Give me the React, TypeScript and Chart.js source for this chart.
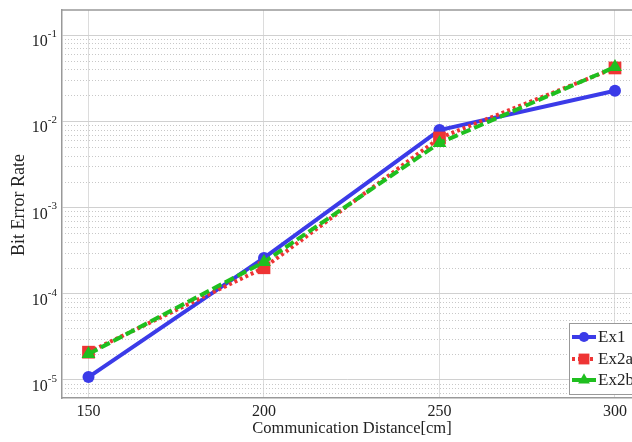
import React, { useEffect, useRef } from "react";
import { Chart, registerables } from "chart.js";
Chart.register(...registerables);

const distances = [150, 200, 250, 300];
const ex1 = [1.08e-5, 2.6e-4, 7.9e-3, 2.26e-2];
const ex2a = [2.1e-5, 2.0e-4, 6.4e-3, 4.15e-2];
const ex2b = [2.0e-5, 2.33e-4, 5.6e-3, 4.25e-2];
const seriesNames = ["Ex1", "Ex2a", "Ex2b"];
const xTicks = [150, 200, 250, 300];
const yDecades = [-5, -4, -3, -2, -1];

const FONT = "'Liberation Serif', 'Times New Roman', serif";
const BLUE = "#3b3be8";
const RED = "#ee3434";
const GREEN = "#1fbf1f";

const styles = [
  { color: BLUE, dash: [] as number[], point: "circle", r: 6 },
  { color: RED, dash: [3, 3], point: "rect", r: 9 },
  { color: GREEN, dash: [10, 4], point: "triangle", r: 8 },
];

function drawMarker(ctx: CanvasRenderingContext2D, style: string, r: number, x: number, y: number, color: string) {
  ctx.fillStyle = color;
  ctx.beginPath();
  if (style === "circle") {
    ctx.arc(x, y, r, 0, Math.PI * 2);
  } else if (style === "rect") {
    const s = r * Math.SQRT1_2;
    ctx.rect(x - s, y - s, 2 * s, 2 * s);
  } else {
    ctx.moveTo(x, y - r);
    ctx.lineTo(x + r * 0.866, y + r * 0.5);
    ctx.lineTo(x - r * 0.866, y + r * 0.5);
    ctx.closePath();
  }
  ctx.fill();
}

const overlay = {
  id: "overlay",
  beforeDatasetsDraw(chart: any) {
    const { ctx, chartArea } = chart;
    const y = chart.scales.y;
    ctx.save();
    ctx.strokeStyle = "#c8c8c8";
    ctx.lineWidth = 1;
    ctx.setLineDash([1, 2]);
    for (let e = -6; e <= 0; e++) {
      for (let m = 2; m <= 9; m++) {
        const v = m * Math.pow(10, e);
        if (v < y.min || v > y.max) continue;
        const py = Math.round(y.getPixelForValue(v)) + 0.5;
        ctx.beginPath();
        ctx.moveTo(chartArea.left, py);
        ctx.lineTo(chartArea.right, py);
        ctx.stroke();
      }
    }
    ctx.restore();
  },
  afterDraw(chart: any) {
    const { ctx, chartArea } = chart;
    const y = chart.scales.y;
    ctx.save();
    ctx.strokeStyle = "#999";
    ctx.lineWidth = 1.5;
    ctx.beginPath();
    ctx.moveTo(chartArea.left, chartArea.top);
    ctx.lineTo(chartArea.right + 2, chartArea.top);
    ctx.stroke();
    // y tick labels (10 with superscript exponent)
    ctx.fillStyle = "#222";
    for (const e of yDecades) {
      const py = y.getPixelForValue(Math.pow(10, e));
      const exp = String(e);
      ctx.font = `11px ${FONT}`;
      const ew = ctx.measureText(exp).width;
      ctx.textBaseline = "middle";
      ctx.textAlign = "left";
      const right = 57;
      ctx.fillText(exp, right - ew, py - 1);
      ctx.font = `16px ${FONT}`;
      ctx.textAlign = "right";
      ctx.fillText("10", right - ew, py + 7);
    }
    // axis titles
    ctx.font = `16.5px ${FONT}`;
    ctx.textAlign = "center";
    ctx.textBaseline = "middle";
    ctx.fillText("Communication Distance[cm]", 352, 429);
    ctx.save();
    ctx.translate(19, 205);
    ctx.rotate(-Math.PI / 2);
    ctx.font = `18px ${FONT}`;
    ctx.fillText("Bit Error Rate", 0, 0);
    ctx.restore();
    // legend
    const lx = 569, ly = 323, lw = 90, lh = 71;
    ctx.fillStyle = "#fff";
    ctx.fillRect(lx, ly, lw, lh);
    ctx.strokeStyle = "#999";
    ctx.lineWidth = 1;
    ctx.strokeRect(lx + 0.5, ly + 0.5, lw, lh);
    const rows = [337, 359, 380];
    seriesNames.forEach((name, i) => {
      const s = styles[i];
      const cy = rows[i];
      ctx.strokeStyle = s.color;
      ctx.lineWidth = 4;
      ctx.setLineDash(s.dash);
      ctx.beginPath();
      ctx.moveTo(lx + 3, cy);
      ctx.lineTo(lx + 27, cy);
      ctx.stroke();
      ctx.setLineDash([]);
      drawMarker(ctx, s.point, s.r * 0.85, lx + 15, cy, s.color);
      ctx.fillStyle = "#222";
      ctx.font = `17px ${FONT}`;
      ctx.textAlign = "left";
      ctx.textBaseline = "middle";
      ctx.fillText(name, lx + 29, cy + 1);
    });
    ctx.restore();
  },
};

export default function App() {
  const ref = useRef<HTMLCanvasElement>(null);
  useEffect(() => {
    const data = [ex1, ex2a, ex2b];
    const chart = new Chart(ref.current!, {
      type: "line",
      data: {
        datasets: data.map((vals, i) => ({
          label: seriesNames[i],
          data: distances.map((d, j) => ({ x: d, y: vals[j] })),
          borderColor: styles[i].color,
          backgroundColor: styles[i].color,
          borderWidth: 4,
          borderDash: styles[i].dash,
          pointStyle: styles[i].point as any,
          pointRadius: styles[i].r,
          pointBorderWidth: 0,
          pointBackgroundColor: styles[i].color,
          tension: 0,
          order: 3 - i,
        })),
      },
      options: {
        responsive: false,
        animation: false,
        devicePixelRatio: 1,
        layout: { autoPadding: false, padding: { top: 10, left: 0, right: 0, bottom: 0 } },
        plugins: { legend: { display: false }, tooltip: { enabled: false } },
        scales: {
          x: {
            type: "linear",
            min: 142.45,
            max: 304.85,
            afterBuildTicks: (s: any) => {
              s.ticks = xTicks.map((v) => ({ value: v }));
            },
            afterFit: (s: any) => {
              s.height = 44;
              s.paddingLeft = 0;
              s.paddingRight = 0;
            },
            grid: { color: "#dcdcdc", drawTicks: false, lineWidth: 1 },
            border: { color: "#999", width: 1.5 },
            ticks: {
              padding: 4,
              color: "#222",
              font: { family: FONT, size: 16 },
              maxRotation: 0,
              autoSkip: false,
            },
          },
          y: {
            type: "logarithmic",
            min: 6.18e-6,
            max: 0.195,
            afterBuildTicks: (s: any) => {
              s.ticks = yDecades.map((e) => ({ value: Math.pow(10, e) }));
            },
            afterFit: (s: any) => {
              s.width = 62;
            },
            grid: { color: "#d0d0d0", drawTicks: false, lineWidth: 1 },
            border: { color: "#999", width: 1.5 },
            ticks: { display: false },
          },
        },
      },
      plugins: [overlay],
    });
    return () => chart.destroy();
  }, []);
  return (
    <div style={{ position: "fixed", left: 0, top: 0, width: 632, height: 442, overflow: "hidden", background: "#fff" }}>
      <canvas ref={ref} width={632} height={442} style={{ display: "block" }} />
    </div>
  );
}
